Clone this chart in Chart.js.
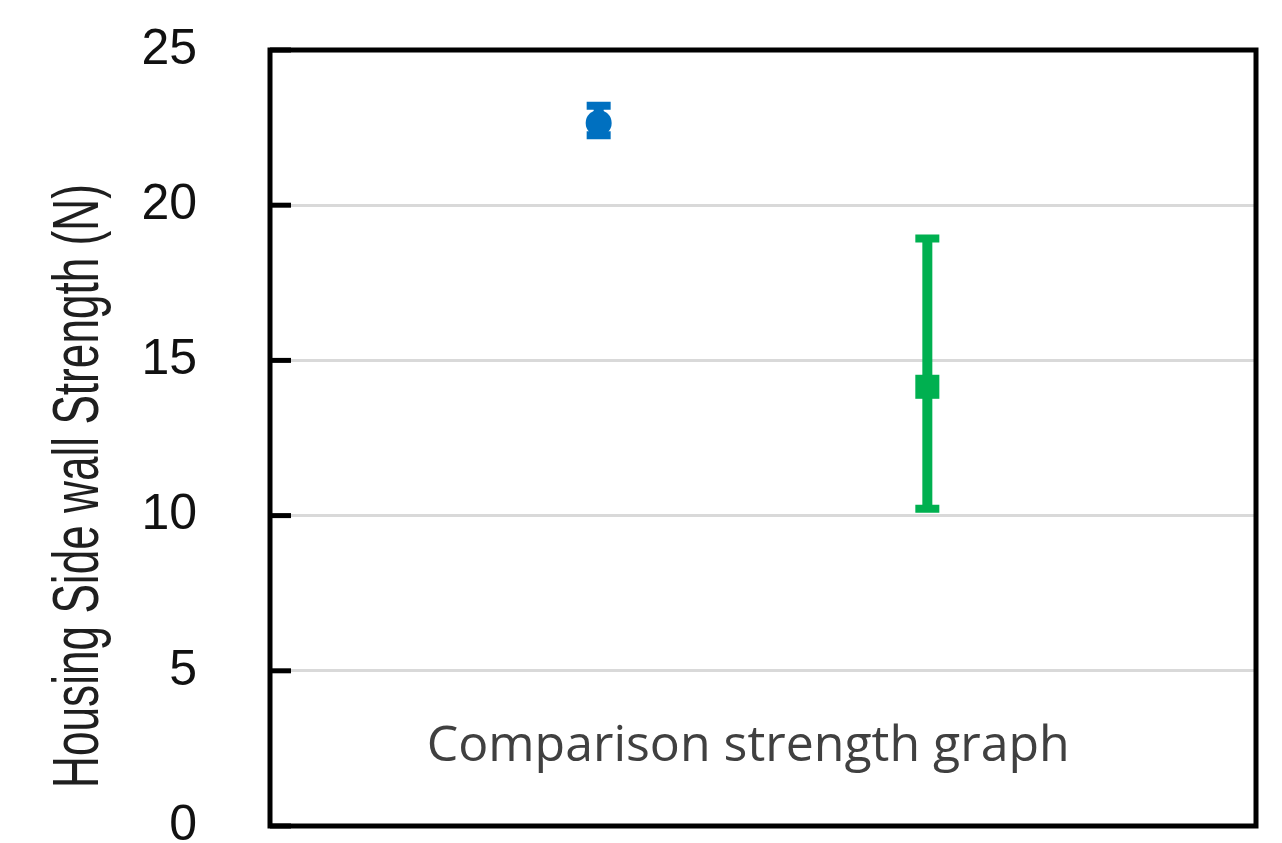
<!DOCTYPE html>
<html>
<head>
<meta charset="utf-8">
<script src="https://cdn.jsdelivr.net/npm/chart.js@4.4.0/dist/chart.umd.min.js"></script>
<style>
  html, body { margin: 0; padding: 0; background: #fff; }
  #wrap { width: 1282px; height: 843px; }
</style>
</head>
<body>
<div id="wrap"><canvas id="chart"></canvas></div>
<script>
// values
const samples = ['Sample 1', 'Sample 2'];
const xPositions = [1, 2];
const means = [22.65, 14.15];
const upperVals = [23.2, 18.93];
const lowerVals = [22.25, 10.22];
const colors = ['#0070C0', '#00B050'];
const markerStyles = ['circle', 'rect'];
const yTicks = [0, 5, 10, 15, 20, 25];
const yTitle = 'Housing Side wall Strength (N)';
const caption = 'Comparison strength graph';

// error bars, inner tick marks, frame, caption, rotated axis title
const extras = {
  id: 'extras',
  beforeDatasetsDraw(chart) {
    const { ctx, scales } = chart;
    ctx.save();
    means.forEach((m, i) => {
      const x = scales.x.getPixelForValue(xPositions[i]);
      const yHi = scales.y.getPixelForValue(upperVals[i]);
      const yLo = scales.y.getPixelForValue(lowerVals[i]);
      ctx.strokeStyle = colors[i];
      ctx.lineWidth = 10;
      ctx.beginPath();
      ctx.moveTo(x, yHi);
      ctx.lineTo(x, yLo);
      ctx.stroke();
      ctx.lineWidth = 8;
      ctx.beginPath();
      ctx.moveTo(x - 12, yHi);
      ctx.lineTo(x + 12, yHi);
      ctx.moveTo(x - 12, yLo);
      ctx.lineTo(x + 12, yLo);
      ctx.stroke();
    });
    ctx.restore();
  },
  afterDraw(chart) {
    const { ctx, chartArea: a, scales } = chart;
    ctx.save();
    // ticks pointing inward
    ctx.strokeStyle = '#000';
    ctx.lineWidth = 5;
    yTicks.forEach(v => {
      const y = scales.y.getPixelForValue(v);
      ctx.beginPath();
      ctx.moveTo(a.left, y);
      ctx.lineTo(a.left + 21, y);
      ctx.stroke();
    });
    // frame
    ctx.strokeRect(a.left, a.top, a.right - a.left, a.bottom - a.top);

    // caption inside the plot
    ctx.fillStyle = '#404040';
    ctx.font = '50px "Open Sans"';
    ctx.textAlign = 'center';
    ctx.textBaseline = 'alphabetic';
    ctx.fillText(caption, a.left + (a.right - a.left) * 0.485, a.bottom - 65);

    // condensed vertical title
    ctx.translate(98, (a.top + a.bottom) / 2 + 48);
    ctx.rotate(-Math.PI / 2);
    ctx.scale(0.69, 1);
    ctx.fillStyle = '#1f1f1f';
    ctx.font = '64px "Liberation Sans"';
    ctx.fillText(yTitle, 0, 0);
    ctx.restore();
  }
};

new Chart(document.getElementById('chart'), {
  type: 'scatter',
  data: {
    datasets: samples.map((s, i) => ({
      label: s,
      data: [{ x: xPositions[i], y: means[i] }],
      pointStyle: markerStyles[i],
      pointRadius: i === 0 ? 13 : 17,
      backgroundColor: colors[i],
      borderColor: colors[i],
      borderWidth: 0
    }))
  },
  options: {
    responsive: true,
    maintainAspectRatio: false,
    animation: false,
    layout: { padding: { top: 50, right: 26, bottom: 15, left: 0 } },
    plugins: { legend: { display: false }, tooltip: { enabled: false } },
    scales: {
      x: {
        type: 'linear', min: 0, max: 3, display: false,
        afterFit: s => { s.paddingLeft = 0; s.paddingRight = 0; }
      },
      y: {
        min: 0,
        max: 25,
        afterFit: s => { s.width = 270; s.paddingTop = 0; s.paddingBottom = 0; },
        afterBuildTicks: s => { s.ticks = yTicks.map(v => ({ value: v })); },
        border: { display: false },
        grid: { color: '#d9d9d9', lineWidth: 3, drawTicks: false },
        ticks: {
          padding: 73,
          color: '#111',
          font: { family: '"Liberation Sans", Arial', size: 50 }
        }
      }
    }
  },
  plugins: [extras]
});
</script>
</body>
</html>
